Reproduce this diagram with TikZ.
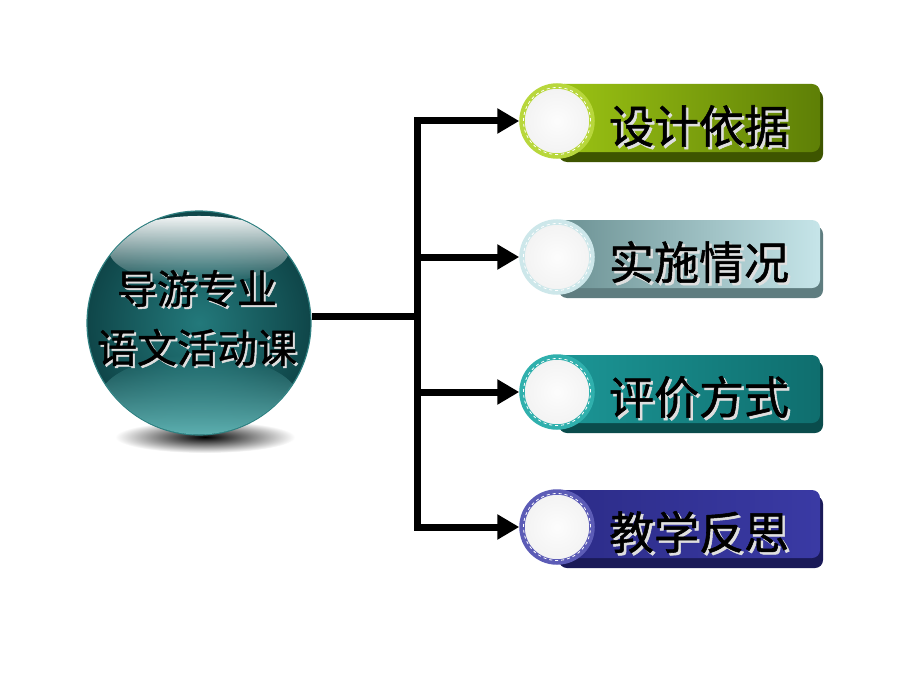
\documentclass[tikz,border=0pt]{standalone}
\usepackage{fontspec}
\setmainfont{Noto Sans CJK SC}
\newfontfamily\cjk[FakeBold=1.2]{Noto Sans CJK SC}
\usetikzlibrary{arrows.meta,fadings}

\definecolor{hubA}{HTML}{23797B}
\definecolor{hubB}{HTML}{0F4649}
\definecolor{hubRim}{HTML}{2E7F80}
\definecolor{hubGlow}{HTML}{6CC4C4}
\definecolor{gL}{HTML}{9CC414}\definecolor{gR}{HTML}{5E7F06}\definecolor{gE}{HTML}{3E5500}\definecolor{gRing}{HTML}{B8D73C}
\definecolor{cL}{HTML}{6A9092}\definecolor{cR}{HTML}{C6E5E9}\definecolor{cE}{HTML}{5F7D80}\definecolor{cRing}{HTML}{CDE7EA}
\definecolor{tL}{HTML}{1C9696}\definecolor{tR}{HTML}{0F6E6E}\definecolor{tE}{HTML}{0A4C4C}\definecolor{tRing}{HTML}{30B0AD}
\definecolor{bL}{HTML}{2C2C88}\definecolor{bR}{HTML}{3A3AA4}\definecolor{bE}{HTML}{1A1A58}\definecolor{bRing}{HTML}{5C5CB6}

\tikzfading[name=fadedown, top color=transparent!0, bottom color=transparent!100]
\tikzfading[name=fadeup, top color=transparent!100, bottom color=transparent!0]

\tikzset{
  boxmain/.style={rectangle, rounded corners=8pt, minimum width=264pt, minimum height=68pt, inner sep=0pt},
  boxedge/.style={rectangle, rounded corners=8pt, minimum width=264pt, minimum height=72pt, inner sep=0pt},
  ringnode/.style={circle, minimum size=70pt, inner sep=0pt, line width=5.5pt, inner color=white!98!gray, outer color=gray!10},
  boxtext/.style={font=\cjk\fontsize{45}{50}\selectfont, inner sep=0pt, text=black},
  hubtext/.style={font=\cjk\fontsize{40}{59}\selectfont, align=center, inner sep=0pt, text=black},
  textshadow/.style={text=white!75!gray, xshift=2.5pt, yshift=-2.5pt},
  conn/.style={line width=7pt, black},
  arr/.style={conn, -{Triangle[length=22pt,width=24pt]}},
}

\newcommand{\mybox}[8]{% name, y, left, right, edge, ring, text, texty
  \node[boxedge, fill=#5] (#1e) at (691,#2+5) {};
  \node[boxmain, left color=#3, right color=#4] (#1) at (688,#2-3) {};
  \node[ringnode, draw=#6] (#1c) at (557,#2) {};
  \draw[white, dashed, line width=0.8pt] (#1c.center) circle (33.5pt);
  \node[boxtext, textshadow] (#1s) at (699,#8) {#7};
  \node[boxtext] (#1t) at (699,#8) {#7};
}

\begin{document}
\begin{tikzpicture}[x=1pt,y=-1pt]
\useasboundingbox (0,0) rectangle (920,690);
\fill[white] (0,0) rectangle (920,690);

% shadow under the sphere
\shade[inner color=black, outer color=white] (205,437) ellipse [x radius=90, y radius=16];

% sphere
\node[circle, minimum size=224pt, inner sep=0pt, inner color=hubA, outer color=hubB, draw=hubRim, line width=1.2pt] (hub) at (199,323) {};
\begin{scope}
  \clip (199,323) circle (111.5);
  \fill[hubGlow, path fading=fadeup, opacity=0.95] (199,400) ellipse [x radius=100, y radius=45];
  \fill[white, path fading=fadedown, opacity=0.95] (199,250) ellipse [x radius=90, y radius=34];
\end{scope}
\node[hubtext, textshadow, xshift=-0.5pt, yshift=0.5pt] (hubs) at (197,318) {导游专业\\语文活动课};
\node[hubtext] (hubt) at (197,318) {导游专业\\语文活动课};

% boxes
\mybox{b1}{121}{gL}{gR}{gE}{gRing}{设计依据}{126}
\mybox{b2}{257}{cL}{cR}{cE}{cRing}{实施情况}{262}
\mybox{b3}{392}{tL}{tR}{tE}{tRing}{评价方式}{397}
\mybox{b4}{527}{bL}{bR}{bE}{bRing}{教学反思}{532}

% connectors
\coordinate (j) at (417,316);
\draw[conn] (hub.east |- j) -- (j);
\draw[conn, line cap=rect] (j |- b1c.west) -- (j |- b4c.west);
\draw[arr] (j |- b1c.west) -- (b1c.west);
\draw[arr] (j |- b2c.west) -- (b2c.west);
\draw[arr] (j |- b3c.west) -- (b3c.west);
\draw[arr] (j |- b4c.west) -- (b4c.west);
\end{tikzpicture}
\end{document}
